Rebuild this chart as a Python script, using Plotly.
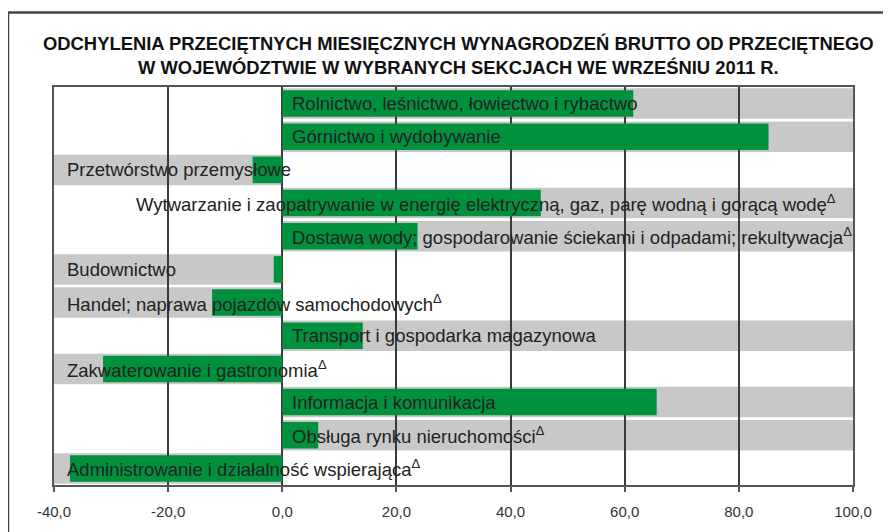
import plotly.graph_objects as go

categories = [
    "Rolnictwo, leśnictwo, łowiectwo i rybactwo",
    "Górnictwo i wydobywanie",
    "Przetwórstwo przemysłowe",
    "Wytwarzanie i zaopatrywanie w energię elektryczną, gaz, parę wodną i gorącą wodę",
    "Dostawa wody; gospodarowanie ściekami i odpadami; rekultywacja",
    "Budownictwo",
    "Handel; naprawa pojazdów samochodowych",
    "Transport i gospodarka magazynowa",
    "Zakwaterowanie i gastronomia",
    "Informacja i komunikacja",
    "Obsługa rynku nieruchomości",
    "Administrowanie i działalność wspierająca",
]
values = [61.5, 85.2, -5.2, 45.3, 23.7, -1.5, -12.3, 14.1, -31.4, 65.6, 6.3, -37.2]
delta_mark = [False, False, False, True, True, False, True, False, True, False, True, True]
label_anchor = ["left", "left", "left", "right", "left", "left", "left", "left", "left", "left", "left", "left"]

x_min, x_max = -40, 100
tick_vals = [-40, -20, 0, 20, 40, 60, 80, 100]
tick_text = ["-40,0", "-20,0", "0,0", "20,0", "40,0", "60,0", "80,0", "100,0"]

title_text = ("<b>ODCHYLENIA PRZECIĘTNYCH MIESIĘCZNYCH WYNAGRODZEŃ BRUTTO OD PRZECIĘTNEGO<br>"
              "W WOJEWÓDZTWIE W WYBRANYCH SEKCJACH WE WRZEŚNIU 2011 R.</b>")

GREEN = "#00913F"
GRAY = "#C8C8C8"
FONT = "Liberation Sans, Arial, sans-serif"

# figure geometry (page body has an 8px margin)
W, H = 883, 524
ML, MR, MT, MB = 46, 38, 79, 36
PW, PH = W - ML - MR, H - MT - MB


def px_x(p):
    return (p - ML) / PW


def px_y(p):
    return (H - MB - p) / PH


idx = list(range(len(categories)))

fig = go.Figure()
fig.add_trace(go.Bar(
    x=values, y=idx, orientation="h", width=0.8,
    marker=dict(color=GREEN, line=dict(width=0)),
    hoverinfo="skip", showlegend=False,
))

shapes = []
annotations = []
for i, (cat, v, dm, anc) in enumerate(zip(categories, values, delta_mark, label_anchor)):
    b0, b1 = (x_min, 0) if v < 0 else (0, x_max)
    shapes.append(dict(type="rect", xref="x", yref="y", x0=b0, x1=b1,
                       y0=i - 0.46, y1=i + 0.46, fillcolor=GRAY,
                       line=dict(width=0), layer="below"))
    txt = cat + ("<sup>Δ</sup>" if dm else "")
    if anc == "right":
        ax, xs = x_max, -15
    elif v < 0:
        ax, xs = x_min, 11
    else:
        ax, xs = 0, 8
    annotations.append(dict(x=ax, y=i, xref="x", yref="y", text=txt, showarrow=False,
                            xanchor=anc, yanchor="middle", xshift=xs,
                            font=dict(family=FONT, size=18.5, color="#222222")))

# outer frame
shapes.append(dict(type="rect", xref="paper", yref="paper",
                   x0=px_x(0), x1=px_x(W + 20),
                   y0=px_y(H + 20), y1=px_y(2.5),
                   line=dict(color="#444444", width=2.5), fillcolor="rgba(0,0,0,0)", layer="above"))

annotations.append(dict(x=px_x(450), y=px_y(47), xref="paper", yref="paper",
                        text=title_text, showarrow=False, xanchor="center", yanchor="middle",
                        font=dict(family=FONT, size=18.4, color="#111111"), align="center"))

fig.update_layout(
    width=W, height=H,
    margin=dict(l=ML, r=MR, t=MT, b=MB),
    paper_bgcolor="white", plot_bgcolor="white",
    shapes=shapes, annotations=annotations,
    bargap=0.2,
    xaxis=dict(range=[x_min, x_max], tickvals=tick_vals, ticktext=tick_text,
               showgrid=True, gridcolor="#3a3a3a", gridwidth=1.5, zeroline=False,
               showline=True, linecolor="#555555", linewidth=1.5, mirror=True,
               ticks="outside", ticklen=5, tickcolor="#555555", tickwidth=1.5,
               ticklabelstandoff=7,
               tickfont=dict(family=FONT, size=15, color="#333333"), fixedrange=True),
    yaxis=dict(range=[len(categories) - 0.5, -0.5], showticklabels=False, showgrid=False,
               zeroline=False, showline=True, linecolor="#555555", linewidth=1.5, mirror=True,
               ticks="", fixedrange=True),
)

fig.write_html("out.html")
